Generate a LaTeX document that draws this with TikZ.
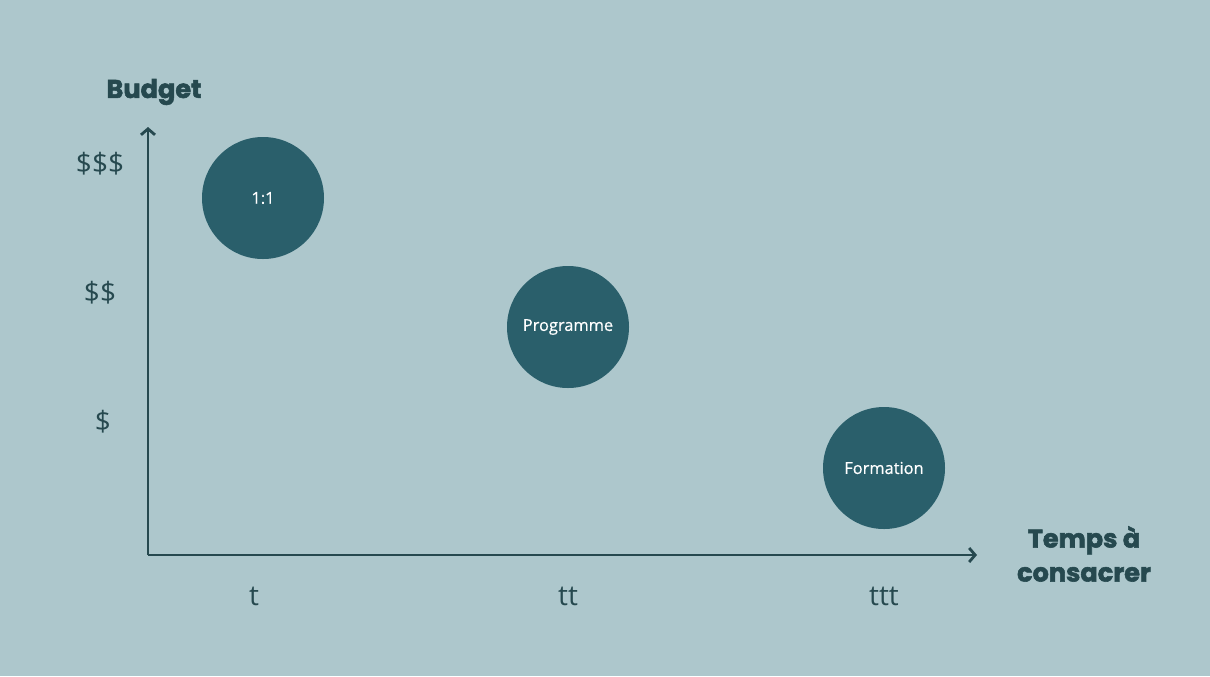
\documentclass[tikz,border=0pt]{standalone}
\usepackage{fontspec}
\setmainfont{Open Sans}
\newfontfamily\ttlfont{Poppins}[BoldFeatures={FakeBold=2.2}]
\newfontfamily\bubfont{Open Sans}[FakeBold=0.6]
\usepackage{tikz}
\usetikzlibrary{arrows.meta}
\definecolor{bgc}{HTML}{ADC7CC}
\definecolor{dotc}{HTML}{2A5F6B}
\definecolor{inkc}{HTML}{26494F}
\tikzset{
  bub/.style  = {circle, fill=dotc, minimum size=61pt, inner sep=0pt,
                 text=white, font=\bubfont\fontsize{8.2}{10}\selectfont},
  tick/.style = {text=inkc, font=\fontsize{14}{16}\selectfont},
  ttl/.style  = {text=inkc, align=center, font=\ttlfont\bfseries\fontsize{12.8}{17}\selectfont},
  ax/.style   = {-{Straight Barb[length=3pt,width=7pt]}, line width=1.4pt, inkc},
}
\begin{document}
\begin{tikzpicture}[x=0.5pt, y=-0.5pt]
  \fill[bgc] (0,0) rectangle (1210,676);
  \useasboundingbox (0,0) rectangle (1210,676);
  % axes
  \coordinate (o) at (148,555);
  \coordinate (ytop) at (148,127);
  \coordinate (xend) at (977,555);
  \draw[ax] (o) -- (ytop);
  \draw[ax] (o) -- (xend);
  % axis titles
  \node[ttl] (budget) at (154,92) {Budget};
  \node[ttl] (temps) at (1084,554) {Temps à\\consacrer};
  % budget ticks
  \node[tick] (b3) at (100,164) {\$\$\$};
  \node[tick] (b2) at (100,293) {\$\$};
  \node[tick] (b1) at (103,422) {\$};
  % time ticks
  \node[tick] (t1) at (254,596) {t};
  \node[tick] (t2) at (568,596) {tt};
  \node[tick] (t3) at (884,596) {ttt};
  % offers
  \node[bub] (un)   at (263,198) {1:1};
  \node[bub] (prog) at (568,327) {Programme};
  \node[bub] (form) at (884,468) {Formation};
\end{tikzpicture}
\end{document}
